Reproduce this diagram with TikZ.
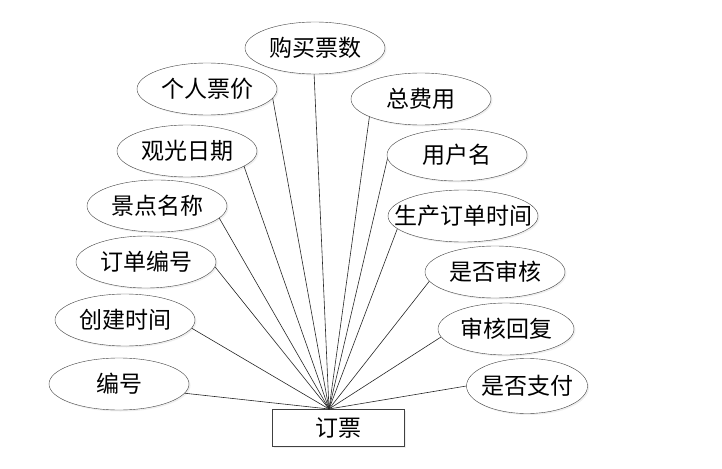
\documentclass[tikz,border=0pt]{standalone}
\usepackage{fontspec}
\newfontfamily\cjk{Noto Sans CJK SC}
\usetikzlibrary{shapes.geometric, shadows}

\begin{document}
\begin{tikzpicture}[
   x=1pt, y=-1pt,
   attr/.style = {ellipse, draw=black!75, fill=white, inner sep=0pt,
      minimum width=140pt, minimum height=52pt,
      drop shadow={shadow xshift=1.5pt, shadow yshift=-1.5pt, fill=black!12}},
   entity/.style = {rectangle, draw=black!75, fill=white,
      minimum width=132pt, minimum height=37pt,
      drop shadow={shadow xshift=1.5pt, shadow yshift=-1.5pt, fill=black!12}},
   every node/.style = {font=\cjk\fontsize{23}{26}\selectfont},
   link/.style = {draw=black!85, line width=0.6pt}]
   \useasboundingbox (0,0) rectangle (722,468);

   \node[entity] (ticket) at (338,428) {订票};
   \coordinate (hub) at (329,409);

   % left side
   \node[attr] (buynum)  at (315,48)  {购买票数};
   \node[attr] (price)   at (207,89)  {个人票价};
   \node[attr] (date)    at (187,151) {观光日期};
   \node[attr] (spot)    at (157,206) {景点名称};
   \node[attr] (orderno) at (146,262) {订单编号};
   \node[attr] (created) at (125,320) {创建时间};
   \node[attr] (id)      at (119,384) {编号};

   % right side
   \node[attr] (total)   at (421,99)  {总费用};
   \node[attr] (user)    at (457,155) {用户名};
   \node[attr, minimum width=150pt] (gentime) at (463,216) {\makebox[0pt]{生产订单时间}};
   \node[attr] (audited) at (495,272) {是否审核};
   \node[attr, minimum width=136pt] (reply) at (506,329) {审核回复};
   \node[attr, minimum width=121pt, minimum height=55pt] (paid) at (527,386) {\makebox[0pt]{是否支付}};

   \draw[link] (buynum.268) -- (hub);
   \draw[link] (price.352) -- (hub);
   \draw[link] (date.345) -- (hub);
   \draw[link] (spot.349) -- (hub);
   \draw[link] (orderno.356) -- (hub);
   \draw[link] (created.353) -- (hub);
   \draw[link] (id.352) -- (hub);

   \draw[link] (total.199) -- (hub);
   \draw[link] (user.183) -- (hub);
   \draw[link] (gentime.191) -- (hub);
   \draw[link] (audited.188) -- (hub);
   \draw[link] (reply.187) -- (hub);
   \draw[link] (paid.180) -- (hub);
\end{tikzpicture}
\end{document}
